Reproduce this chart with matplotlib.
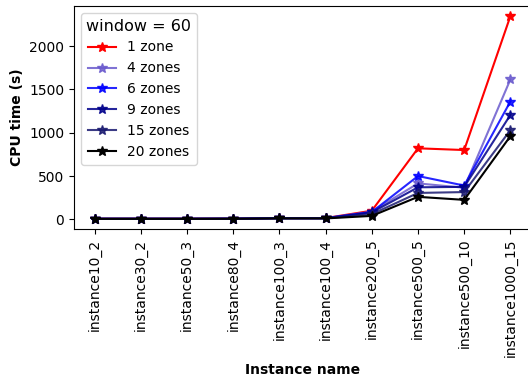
import matplotlib
matplotlib.use("Agg")
import matplotlib.pyplot as plt

instances = ["instance10_2", "instance30_2", "instance50_3", "instance80_4",
             "instance100_3", "instance100_4", "instance200_5", "instance500_5",
             "instance500_10", "instance1000_15"]

zones_1 = [8, 8, 8, 9, 15, 15, 100, 820, 800, 2345]
zones_4 = [7, 7, 7, 8, 14, 14, 90, 415, 365, 1615]
zones_6 = [7, 7, 7, 8, 14, 14, 85, 500, 390, 1360]
zones_9 = [7, 7, 7, 8, 13, 13, 80, 370, 375, 1205]
zones_15 = [6, 6, 6, 7, 12, 12, 60, 305, 315, 1030]
zones_20 = [6, 6, 6, 7, 11, 11, 40, 260, 225, 960]

series = [
    ("1 zone", zones_1, "red"),
    ("4 zones", zones_4, "#6a5acd"),
    ("6 zones", zones_6, "blue"),
    ("9 zones", zones_9, "darkblue"),
    ("15 zones", zones_15, "midnightblue"),
    ("20 zones", zones_20, "black"),
]

fig = plt.figure(figsize=(5.28, 3.76), dpi=100)
ax = fig.add_axes([0.140, 0.391, 0.866, 0.593])

x = list(range(len(instances)))
for label, vals, col in series:
    a = 1.0 if col in ("red", "black") else 0.85
    ax.plot(x, vals, color=col, marker="*", markersize=7, linewidth=1.5,
            alpha=a, label=label)

ax.set_xticks(x)
ax.set_xticklabels(instances, rotation=90, fontsize=10)
ax.set_yticks([0, 500, 1000, 1500, 2000])
ax.tick_params(axis="y", labelsize=10)
ax.set_ylabel("CPU time (s)", fontsize=10, fontweight="bold")
ax.set_xlabel("Instance name", fontsize=10, fontweight="bold")

leg = ax.legend(title="window = 60", loc="upper left", fontsize=10,
                title_fontsize=11.5)

fig.savefig("out.png", dpi=100)
